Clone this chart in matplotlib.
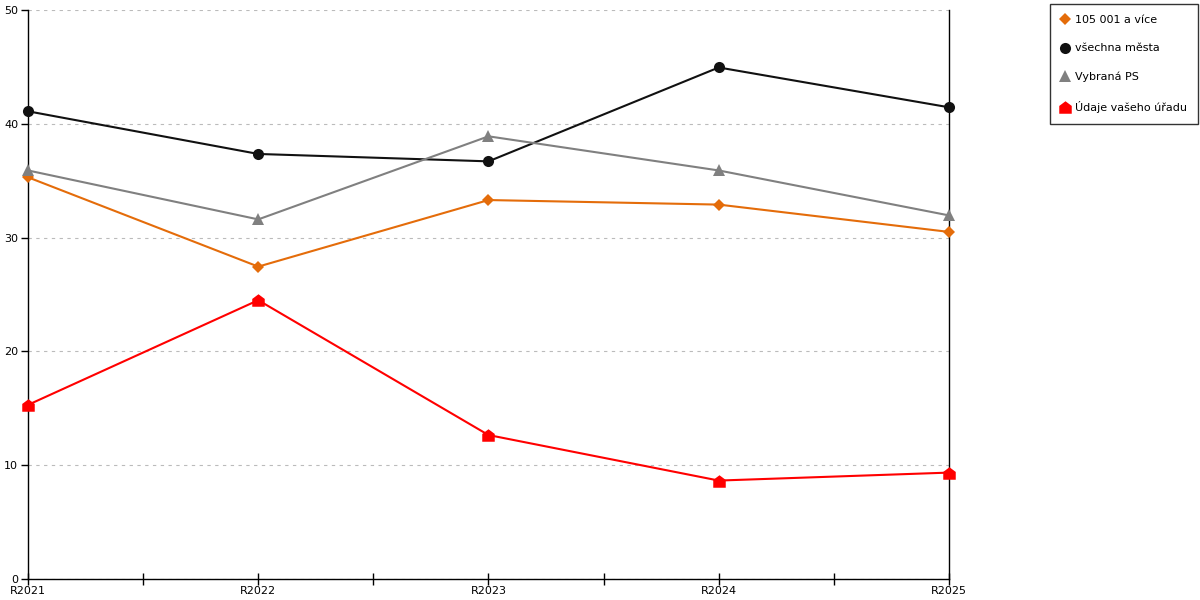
import matplotlib
matplotlib.use("Agg")
import matplotlib.pyplot as plt
from matplotlib.lines import Line2D

# data
years = ["R2021", "R2022", "R2023", "R2024", "R2025"]
mesta_105 = [35.3, 27.45, 33.3, 32.9, 30.5]      # 105 001 a více
vsechna_mesta = [41.1, 37.35, 36.7, 44.95, 41.45]  # všechna města
vybrana_ps = [35.9, 31.6, 38.9, 35.9, 31.95]      # Vybraná PS
vas_urad = [15.3, 24.5, 12.65, 8.65, 9.35]        # Údaje vašeho úřadu

labels = ["105 001 a více", "všechna města", "Vybraná PS", "Údaje vašeho úřadu"]
colors = ["#e46c0a", "#111111", "#808080", "#ff0000"]
house = [(-1, -1), (1, -1), (1, 0.25), (0, 1), (-1, 0.25), (-1, -1)]
markers = ["D", "o", "^", house]
msizes = [6, 8, 8, 9]

plt.rcParams['font.family'] = ['DejaVu Sans']
fig = plt.figure(figsize=(12, 6), dpi=100)
ax = fig.add_axes([28 / 1200, 21 / 600, 921 / 1200, 569 / 600])

x = list(range(len(years)))
series = [mesta_105, vsechna_mesta, vybrana_ps, vas_urad]
# draw in back-to-front order like the original
for i in [2, 0, 1, 3]:
    ax.plot(x, series[i], color=colors[i], lw=1.5, marker=markers[i],
            markersize=msizes[i], markeredgewidth=0, clip_on=False, zorder=3 + i)

ax.set_xlim(0, 4)
ax.set_ylim(0, 50)
ax.set_yticks([0, 10, 20, 30, 40, 50])
ax.set_xticks(x)
ax.set_xticklabels(years)
ax.set_xticks([0.5, 1.5, 2.5, 3.5], minor=True)
ax.tick_params(axis="x", which="both", direction="inout", length=8, width=1,
               labelsize=8, pad=1)
ax.tick_params(axis="y", direction="out", length=5, width=1, labelsize=8, pad=2)
ax.yaxis.grid(True, color="#bbbbbb", linestyle=(0, (3, 4)), lw=0.8)
ax.set_axisbelow(True)
ax.spines["top"].set_visible(False)
for s in ["left", "bottom", "right"]:
    ax.spines[s].set_color("black")
    ax.spines[s].set_linewidth(1)

handles = [Line2D([], [], color=colors[i], marker=markers[i], linestyle="none",
                  markersize=msizes[i], markeredgewidth=0) for i in range(4)]
leg = fig.legend(handles, labels, loc="upper right",
                 bbox_to_anchor=(1198 / 1200, 1 - 4 / 600), fontsize=8,
                 frameon=True, fancybox=False, labelspacing=1.65,
                 handletextpad=0.45, handlelength=0.8, borderpad=1.0,
                 borderaxespad=0)
leg.get_frame().set_edgecolor("black")
leg.get_frame().set_linewidth(1)

fig.savefig("out.png", dpi=100)
